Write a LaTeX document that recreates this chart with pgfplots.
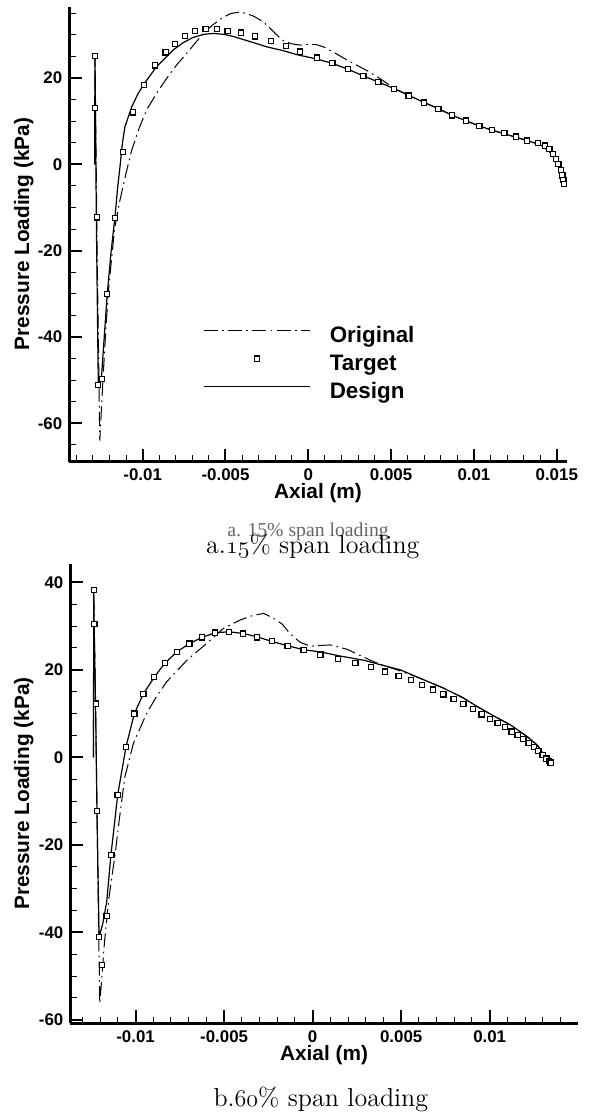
\documentclass[border=0pt]{standalone}
\usepackage{fontspec}
\setsansfont{Liberation Sans}
\newfontfamily\timesfont{Liberation Serif}
\usepackage{pgfplots}
\pgfplotsset{compat=1.18}

% old-style figures from the math italic font
\newcommand{\osf}[1]{{\fontencoding{OML}\fontfamily{cmm}\fontseries{m}\fontshape{it}\selectfont #1}}

\pgfplotsset{
  tecplot/.style={
    scale only axis,
    axis x line*=bottom, axis y line*=left,
    axis line style={line width=1.25pt},
    tick align=inside,
    major tick length=6.5pt, minor tick length=3.3pt,
    major tick style={line width=1pt, black},
    minor tick style={line width=0.5pt, black},
    tick label style={font=\sffamily\bfseries\fontsize{8.45}{10}\selectfont},
    label style={font=\sffamily\bfseries\fontsize{10.4}{12}\selectfont},
    scaled x ticks=false, scaled y ticks=false,
    xlabel={Axial (m)}, ylabel={Pressure Loading (kPa)},
  },
  orig/.style={black, line width=0.5pt, dash pattern=on 7pt off 2.2pt on 0.8pt off 2.2pt},
  design/.style={black, line width=0.6pt},
  target/.style={black, only marks, mark=square*, mark size=1.3pt,
    mark options={solid, fill=white, line width=0.6pt}},
  targetleg/.style={target, legend image code/.code={%
    \draw[mark repeat=2, mark phase=2, ##1] plot coordinates {(0pt,3.2pt) (26.65pt,3.2pt) (53.3pt,3.2pt)};}},
}

\begin{document}
\begin{tikzpicture}
\path[use as bounding box] (0pt,0pt) rectangle (297pt,-559.5pt);

% ---------------- a. 15% span ----------------
\begin{axis}[tecplot,
  at={(34.65pt,-230.85pt)}, anchor=south west,
  width=248.7pt, height=227.5pt,
  xmin=-0.01443, xmax=0.0156, ymin=-68.9, ymax=36.5,
  xtick={-0.01,-0.005,0,0.005,0.01,0.015},
  xticklabels={-0.01,-0.005,0,0.005,0.01,0.015},
  minor xtick={-0.014,-0.013,-0.012,-0.011,-0.009,-0.008,-0.007,-0.006,-0.004,-0.003,-0.002,-0.001,0.001,0.002,0.003,0.004,0.006,0.007,0.008,0.009,0.011,0.012,0.013,0.014},
  ytick={-60,-40,-20,0,20}, yticklabels={-60,-40,-20,0,20},
  minor ytick={-65,-55,-50,-45,-35,-30,-25,-15,-10,-5,5,10,15,25,30,35},
  xlabel style={at={(axis description cs:0.5,0)}, anchor=base, yshift=-18.4pt},
  ylabel style={at={(axis description cs:-0.081,0.5)}, anchor=base},
  legend style={draw=none, fill=none, at={(0.268,0.2982)}, anchor=north west,
    inner sep=0pt, row sep=3.8pt,
    nodes={inner sep=0pt, font=\sffamily\bfseries\fontsize{11.2}{13}\selectfont, text height=8pt, text depth=2.3pt},
    /tikz/every odd column/.append style={column sep=9.5pt}},
  legend cell align=left,
  legend image code/.code={\draw[#1] (0pt,3.2pt) -- (53.3pt,3.2pt);},
]
\addplot[orig] coordinates {
(-0.01290,0) (-0.01288,25) (-0.01275,-20) (-0.01259,-64) (-0.01240,-50) (-0.01222,-38)
(-0.01208,-29.9) (-0.01170,-15) (-0.01137,-8.3) (-0.01100,-2) (-0.01066,3.3) (-0.01020,8.5)
(-0.00976,12.6) (-0.00915,16.5) (-0.00855,19.9) (-0.00795,23) (-0.00734,25.7) (-0.00680,28.2)
(-0.00634,30.3) (-0.00580,32.2) (-0.00520,33.9) (-0.00470,34.9) (-0.00423,35.2) (-0.00380,35.0)
(-0.00330,34.3) (-0.00272,33.0) (-0.00230,31.5) (-0.00191,30.0) (-0.00150,28.6) (-0.0010,27.9)
(-0.0005,27.6) (0.0,27.8) (0.0005,27.7) (0.00091,27.2) (0.0015,26.0) (0.00232,24.2)
(0.00300,22.8) (0.00373,21.3) (0.00450,19.4) (0.0052,17.5) (0.0061,15.9) (0.0070,14.3)
(0.0079,12.8) (0.0087,11.3) (0.0095,10.1) (0.0103,8.9) (0.0111,7.9) (0.0118,7.1) (0.0125,6.3)
(0.0132,5.5) (0.0137,4.9) (0.0141,4.3) (0.01455,3.0) (0.0149,1.2) (0.0151,-0.5) (0.0153,-2.5) (0.01544,-4.8)
};
\addlegendentry{Original}
\addlegendimage{targetleg}
\addlegendentry{Target}
\addlegendimage{design}
\addlegendentry{Design}
\addplot[design, forget plot] coordinates {
(-0.01290,0) (-0.01288,25) (-0.01285,13) (-0.01280,-12) (-0.01268,-51) (-0.01250,-50)
(-0.01214,-30) (-0.01190,-20) (-0.01167,-12.1) (-0.01150,-5) (-0.01137,-0.6) (-0.01122,5)
(-0.01107,8.7) (-0.01066,13.3) (-0.01030,16.2) (-0.00996,18.4) (-0.00916,22.6) (-0.00815,26.5)
(-0.00750,28.3) (-0.00694,29.4) (-0.00630,30.1) (-0.00574,30.3) (-0.00510,30.1) (-0.00453,29.6)
(-0.00350,28.4) (-0.00251,27.2) (-0.0015,26.3) (-0.0006,25.3) (0.0005,24.4) (0.0015,23.3)
(0.0024,22.0) (0.0033,20.5) (0.0042,19.1) (0.0052,17.5) (0.0061,15.9) (0.0070,14.3)
(0.0079,12.8) (0.0087,11.3) (0.0095,10.1) (0.0103,8.9) (0.0111,7.9) (0.0118,7.1) (0.0125,6.3)
(0.0132,5.5) (0.0137,4.9) (0.0141,4.3) (0.01455,3.0) (0.0149,1.2) (0.0151,-0.5) (0.0153,-2.5) (0.01544,-4.8)
};
\addplot[target, forget plot] coordinates {
(-0.01288,25.1) (-0.01288,13.0) (-0.01276,-12.3) (-0.01269,-51.1) (-0.01246,-49.7) (-0.01214,-30.0)
(-0.01167,-12.5) (-0.01117,2.9) (-0.01057,12.0) (-0.00992,18.4) (-0.00926,22.9) (-0.00861,25.9)
(-0.00805,27.9) (-0.00745,29.7) (-0.00684,30.9) (-0.00620,31.3) (-0.00553,31.3) (-0.00487,30.9)
(-0.00408,30.5) (-0.00322,29.6) (-0.00227,28.6) (-0.00136,27.4) (-0.0005,26.1) (0.00051,24.7)
(0.00145,23.4) (0.00238,22.1) (0.00332,20.5) (0.00423,19.1) (0.00518,17.5) (0.00606,15.9)
(0.00697,14.3) (0.00785,12.8) (0.00868,11.3) (0.00952,10.1) (0.01033,8.9) (0.01109,7.9)
(0.01184,7.2) (0.01254,6.4) (0.01322,5.5) (0.01385,4.9) (0.01429,4.3) (0.01455,3.5)
(0.01479,2.4) (0.01496,1.2) (0.0151,0) (0.01524,-1.3) (0.01534,-2.6) (0.0154,-3.6) (0.01544,-4.6)
};
\end{axis}

\node[font=\timesfont\fontsize{9.85}{11}\selectfont, text=black!60, anchor=base, inner sep=0pt] at (154pt,-268.35pt) {a. 15\% span loading};
\node[font=\fontsize{13}{15}\selectfont, anchor=base, inner sep=0pt] at (156.4pt,-276.5pt) {a.\osf{15}\% span loading};

% ---------------- b. 60% span ----------------
\begin{axis}[tecplot,
  at={(35.2pt,-511.65pt)}, anchor=south west,
  width=253.65pt, height=229.65pt,
  xmin=-0.01368, xmax=0.01497, ymin=-60.8, ymax=44.2,
  xtick={-0.01,-0.005,0,0.005,0.01},
  xticklabels={-0.01,-0.005,0,0.005,0.01},
  minor xtick={-0.013,-0.012,-0.011,-0.009,-0.008,-0.007,-0.006,-0.004,-0.003,-0.002,-0.001,0.001,0.002,0.003,0.004,0.006,0.007,0.008,0.009,0.011,0.012,0.013,0.014},
  ytick={-60,-40,-20,0,20,40}, yticklabels={-60,-40,-20,0,20,40},
  minor ytick={-55,-50,-45,-35,-30,-25,-15,-10,-5,5,10,15,25,30,35},
  xlabel style={at={(axis description cs:0.5,0)}, anchor=base, yshift=-18.6pt},
  ylabel style={at={(axis description cs:-0.0816,0.5)}, anchor=base},
]
\addplot[orig] coordinates {
(-0.01238,0) (-0.01236,38) (-0.01225,10) (-0.01212,-30) (-0.01202,-56.2) (-0.01190,-50)
(-0.01175,-42) (-0.01150,-32) (-0.01116,-22.3) (-0.01085,-12) (-0.01060,-4.4) (-0.01012,3.2)
(-0.00937,10.1) (-0.00880,14) (-0.00824,17.3) (-0.0071,22.2) (-0.00597,26.1) (-0.00503,29.5)
(-0.00409,31.4) (-0.00340,32.4) (-0.00277,32.9) (-0.00230,32.0) (-0.00173,30.5) (-0.00126,28.2)
(-0.0007,26.3) (-0.00013,25.4) (0.0005,25.6) (0.001,25.7) (0.00195,24.7) (0.00326,22.2)
(0.0040,21.0) (0.00477,20.0) (0.0060,18.2) (0.00741,15.8) (0.0085,13.6) (0.0093,11.6)
(0.0103,9.3) (0.01118,7.4) (0.01213,4.7) (0.01269,2.8) (0.01307,0.5) (0.01335,-1.0) (0.01344,-1.2)
};
\addplot[design] coordinates {
(-0.01238,0) (-0.01236,38.3) (-0.01234,30.5) (-0.01226,12.3) (-0.01218,-12.2) (-0.01206,-41.1)
(-0.01185,-38) (-0.01163,-33) (-0.01139,-22.3) (-0.01101,-8.6) (-0.01054,2.4) (-0.01007,10.0)
(-0.00956,14.5) (-0.00895,18.3) (-0.00833,21.6) (-0.00767,24.1) (-0.00696,26.0) (-0.00626,27.4)
(-0.0055,28.5) (-0.0047,28.7) (-0.0039,28.3) (-0.0031,27.5) (-0.0023,26.5) (-0.0014,25.5)
(-0.0005,24.6) (0.00044,24.1) (0.0015,23.2) (0.00289,22.2) (0.0040,21.0) (0.00496,20.0)
(0.0060,18.2) (0.00741,15.8) (0.0085,13.6) (0.0093,11.6) (0.0103,9.3) (0.01118,7.4)
(0.01213,4.7) (0.01269,2.8) (0.01307,0.5) (0.01335,-1.0) (0.01344,-1.2)
};
\addplot[target] coordinates {
(-0.01235,38.2) (-0.01233,30.5) (-0.01225,12.3) (-0.01218,-12.2) (-0.01206,-41.1) (-0.01189,-47.5)
(-0.01163,-36.3) (-0.01137,-22.3) (-0.01101,-8.6) (-0.01054,2.4) (-0.01007,10.0) (-0.00956,14.5)
(-0.00895,18.3) (-0.00833,21.6) (-0.00767,24.1) (-0.00696,26.0) (-0.00626,27.4) (-0.00550,28.5)
(-0.00473,28.7) (-0.00394,28.3) (-0.00315,27.4) (-0.00230,26.6) (-0.00141,25.4) (-0.00051,24.5)
(0.00044,23.5) (0.00144,22.5) (0.00242,21.6) (0.00330,20.6) (0.00410,19.6) (0.00485,18.6)
(0.00554,17.7) (0.00619,16.6) (0.00679,15.5) (0.00739,14.4) (0.00796,13.3) (0.00852,12.2)
(0.00905,11.0) (0.00954,9.8) (0.01001,8.7) (0.01045,7.8) (0.01086,6.9) (0.01124,5.9)
(0.01158,5.1) (0.01190,4.2) (0.01220,3.3) (0.01250,2.4) (0.01275,1.5) (0.01299,0.5)
(0.01320,-0.3) (0.01335,-0.9) (0.01344,-1.2)
};
\end{axis}

\node[font=\fontsize{13}{15}\selectfont, anchor=base, inner sep=0pt] at (160.4pt,-553pt) {b.\osf{60}\% span loading};
\end{tikzpicture}
\end{document}
